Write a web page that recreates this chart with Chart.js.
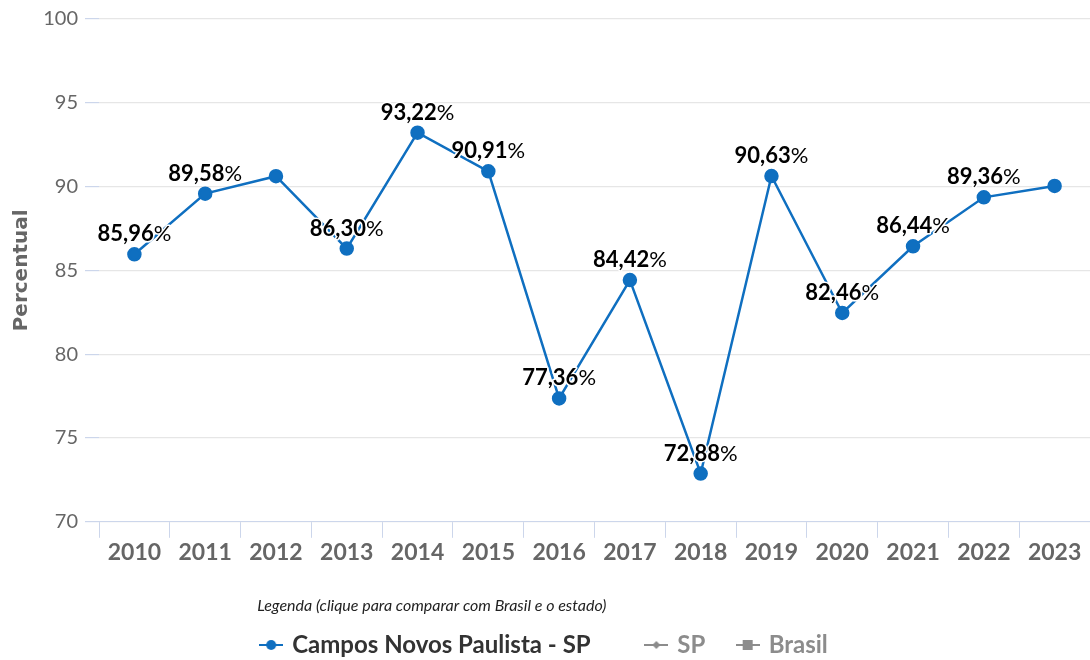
<!DOCTYPE html>
<html>
<head>
<meta charset="utf-8">
<script src="https://cdn.jsdelivr.net/npm/chart.js@4/dist/chart.umd.min.js"></script>
<style>
  html, body { margin: 0; padding: 0; background: #fff; }
  #wrap { width: 1090px; height: 660px; }
</style>
</head>
<body>
<div id="wrap"><canvas id="myChart" width="1090" height="660"></canvas></div>
<script>
const years = ['2010', '2011', '2012', '2013', '2014', '2015', '2016', '2017', '2018', '2019', '2020', '2021', '2022', '2023'];
const values = [85.96, 89.58, 90.62, 86.30, 93.22, 90.91, 77.36, 84.42, 72.88, 90.63, 82.46, 86.44, 89.36, 90.04];
// labels hidden on the chart for 2012 and 2023 (overlap)
const showLabel = [true, true, false, true, true, true, true, true, true, true, true, true, true, false];
const yTicks = [70, 75, 80, 85, 90, 95, 100];
const legendNames = ['Campos Novos Paulista - SP', 'SP', 'Brasil'];

const FONT = 'Lato, "Open Sans", sans-serif';
const BLUE = '#0f6fc0';
const GREY = '#8c8c8c';

function legendIcon(kind, color) {
    const c = document.createElement('canvas');
    c.width = 24;
    c.height = 14;
    const g = c.getContext('2d');
    g.strokeStyle = color;
    g.fillStyle = color;
    g.lineWidth = 2;
    g.beginPath();
    g.moveTo(0, 7);
    g.lineTo(24, 7);
    g.stroke();
    g.beginPath();
    if (kind === 'circle') {
        g.arc(12, 7, 5, 0, Math.PI * 2);
    } else if (kind === 'diamond') {
        g.moveTo(12, 3); g.lineTo(16, 7); g.lineTo(12, 11); g.lineTo(8, 7);
    } else {
        g.rect(7, 2, 10, 10);
    }
    g.fill();
    return c;
}

const icons = [legendIcon('circle', BLUE), legendIcon('diamond', GREY), legendIcon('square', GREY)];
// extra spacing after each legend entry (spaces)
const legendGaps = ['        ', '    ', ''];

const pointLabels = {
    id: 'pointLabels',
    afterDatasetsDraw(chart) {
        const ctx = chart.ctx;
        const meta = chart.getDatasetMeta(0);
        ctx.save();
        ctx.textBaseline = 'alphabetic';
        meta.data.forEach((pt, i) => {
            if (!showLabel[i]) return;
            const num = values[i].toFixed(2).replace('.', ',');
            ctx.font = 'bold 22px ' + FONT;
            const w1 = ctx.measureText(num).width;
            ctx.font = '22px ' + FONT;
            const w2 = ctx.measureText('%').width;
            const x0 = pt.x - (w1 + w2) / 2;
            const y0 = pt.y - 13;
            ctx.lineJoin = 'round';
            ctx.strokeStyle = '#fff';
            ctx.lineWidth = 3;
            ctx.fillStyle = '#000';
            ctx.font = 'bold 22px ' + FONT;
            ctx.strokeText(num, x0, y0);
            ctx.fillText(num, x0, y0);
            ctx.font = '22px ' + FONT;
            ctx.strokeText('%', x0 + w1, y0);
            ctx.fillText('%', x0 + w1, y0);
        });
        ctx.restore();
    }
};

const ctx = document.getElementById('myChart').getContext('2d');

const myChart = new Chart(ctx, {
    type: 'line',
    data: {
        labels: years,
        datasets: [
            {
                label: legendNames[0],
                data: values,
                borderColor: BLUE,
                backgroundColor: BLUE,
                borderWidth: 2.5,
                pointRadius: 6,
                pointHoverRadius: 6,
                tension: 0
            }
        ]
    },
    options: {
        responsive: false,
        animation: false,
        events: [],
        layout: { autoPadding: false, padding: { top: 18, right: 0, left: 0, bottom: -7 } },
        scales: {
            x: {
                offset: true,
                border: { color: '#ccd6eb', width: 1 },
                grid: {
                    offset: true,
                    drawOnChartArea: false,
                    drawTicks: true,
                    tickLength: 16,
                    color: '#ccd6eb'
                },
                ticks: {
                    color: '#666',
                    padding: 1,
                    maxRotation: 0,
                    font: { family: FONT, size: 23, weight: 'bold' }
                },
                afterFit(s) { s.height = 48; }
            },
            y: {
                min: 70,
                max: 100,
                border: { display: false },
                afterBuildTicks(s) { s.ticks = yTicks.map(v => ({ value: v })); },
                grid: {
                    color: '#e6e6e6',
                    tickColor: '#ccd6eb',
                    tickLength: 14,
                    lineWidth: 1.2
                },
                ticks: {
                    color: '#666',
                    padding: 7,
                    font: { family: FONT, size: 20 }
                },
                title: {
                    display: true,
                    text: 'Percentual',
                    color: '#666',
                    padding: { top: 10, bottom: 0 },
                    font: { family: '"DejaVu Sans", sans-serif', size: 20, weight: 'bold' }
                },
                afterFit(s) { s.width = 99; }
            }
        },
        plugins: {
            tooltip: { enabled: false },
            legend: {
                position: 'bottom',
                align: 'center',
                onClick: null,
                title: {
                    display: true,
                    text: 'Legenda (clique para comparar com Brasil e o estado)',
                    position: 'start',
                    color: '#222',
                    padding: { top: 28, bottom: 6 },
                    font: { family: FONT, size: 16, style: 'italic' }
                },
                labels: {
                    usePointStyle: true,
                    pointStyleWidth: 18,
                    padding: 10,
                    font: { family: FONT, size: 24, weight: 'bold' },
                    generateLabels() {
                        return legendNames.map((name, i) => ({
                            text: name + legendGaps[i],
                            pointStyle: icons[i],
                            fontColor: i === 0 ? '#333' : GREY,
                            hidden: false,
                            datasetIndex: i,
                            lineWidth: 0,
                            strokeStyle: 'transparent',
                            fillStyle: 'transparent'
                        }));
                    }
                }
            }
        }
    },
    plugins: [pointLabels]
});
</script>
</body>
</html>
